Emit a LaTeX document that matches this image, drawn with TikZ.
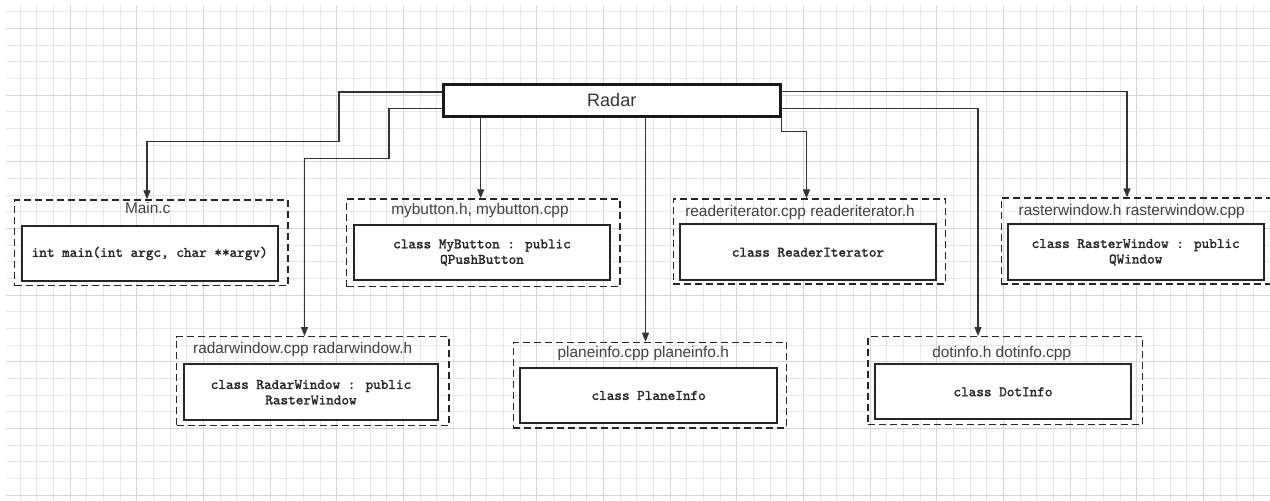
\documentclass[tikz,border=0pt]{standalone}
\usepackage{fontspec}
\setmainfont{Liberation Sans}
\newfontfamily\codefont[FakeBold=1.6]{lmmono10-regular.otf}
\usetikzlibrary{arrows.meta}
\tikzset{
  gridminor/.style={draw=black!9, line width=0.9pt},
  gridmajor/.style={draw=black!16, line width=0.9pt},
  conn/.style={draw=black!80, line width=1.3pt, -{Triangle[length=9pt,width=7pt]}},
  pkgbox/.style={draw=black!85, line width=1.3pt, dash pattern=on 7pt off 4pt, anchor=north west, inner sep=0pt},
  classbox/.style={draw=black!85, line width=2pt, fill=white, anchor=north west, align=center, inner sep=0pt,
    font=\codefont\fontsize{14.5}{15.5}\selectfont, text=black!85},
  pkglabel/.style={font=\fontsize{15.4}{16}\selectfont, text=black!75, inner sep=0pt, anchor=base},
  radarbox/.style={draw=black!90, line width=2.8pt, fill=white, anchor=north west, inner sep=0pt,
    font=\fontsize{18}{20}\selectfont, text=black!80}
}
\begin{document}
\begin{tikzpicture}[x=1pt,y=-1pt]
\useasboundingbox (0,0) rectangle (1270,501);
\clip (0,0) rectangle (1270,501);
\fill[white] (0,0) rectangle (1270,501);
% grid
\foreach \i in {0,...,75}{
  \pgfmathtruncatemacro{\m}{mod(\i,4)}
  \ifnum\m=3 \draw[gridmajor] (20+\i*16.6667,5) -- (20+\i*16.6667,501);
  \else \draw[gridminor] (20+\i*16.6667,5) -- (20+\i*16.6667,501); \fi
}
\foreach \i in {0,...,29}{
  \pgfmathtruncatemacro{\m}{mod(\i,4)}
  \ifnum\m=1 \draw[gridmajor] (6,11.667+\i*16.6667) -- (1270,11.667+\i*16.6667);
  \else \draw[gridminor] (6,11.667+\i*16.6667) -- (1270,11.667+\i*16.6667); \fi
}
% root
\node[radarbox, minimum width=336.7pt, minimum height=32.3pt] (radar) at (442,82.7) {Radar};
% packages
\node[pkgbox, minimum width=273.3pt, minimum height=85.7pt] (mainc) at (14,199.3) {};
\node[pkglabel] (mainclbl) at (147.7,213.3) {Main.c};
\node[classbox, minimum width=256pt, minimum height=55pt] (maincls) at (20.7,225) {int main(int argc, char **argv)};

\node[pkgbox, minimum width=273.3pt, minimum height=87.7pt] (mybtn) at (346,198.3) {};
\node[pkglabel] (mybtnlbl) at (480,214.5) {mybutton.h, mybutton.cpp};
\node[classbox, minimum width=256.6pt, minimum height=55.3pt] (mybtncls) at (352.7,224) {class MyButton : public\\QPushButton};

\node[pkgbox, minimum width=272.3pt, minimum height=85pt] (readit) at (672.7,198.3) {};
\node[pkglabel] (readitlbl) at (800,216) {readeriterator.cpp readeriterator.h};
\node[classbox, minimum width=256pt, minimum height=56pt] (readitcls) at (679,223.3) {class ReaderIterator};

\node[pkgbox, minimum width=280pt, minimum height=86pt] (rasterwin) at (1000.7,197.3) {};
\node[pkglabel] (rasterwinlbl) at (1131.7,215) {rasterwindow.h rasterwindow.cpp};
\node[classbox, minimum width=256pt, minimum height=56pt] (rasterwincls) at (1006.7,223.3) {class RasterWindow : public\\QWindow};

\node[pkgbox, minimum width=272.3pt, minimum height=89pt] (radarwin) at (176,336) {};
\node[pkglabel] (radarwinlbl) at (302.7,353.8) {radarwindow.cpp radarwindow.h};
\node[classbox, minimum width=254.6pt, minimum height=56pt] (radarwincls) at (182.7,363.3) {class RadarWindow : public\\RasterWindow};

\node[pkgbox, minimum width=273.3pt, minimum height=85.6pt] (planeinfo) at (512.7,341.7) {};
\node[pkglabel] (planeinfolbl) at (643.3,357.8) {planeinfo.cpp planeinfo.h};
\node[classbox, minimum width=256.7pt, minimum height=54.4pt] (planeinfocls) at (519.3,367.3) {class PlaneInfo};

\node[pkgbox, minimum width=274.4pt, minimum height=88pt] (dotinfo) at (867.3,336) {};
\node[pkglabel] (dotinfolbl) at (1001.7,357.8) {dotinfo.h dotinfo.cpp};
\node[classbox, minimum width=256pt, minimum height=55pt] (dotinfocls) at (874,363.3) {class DotInfo};

% connectors
\draw[conn] (radar.west |- 0,92) -| (339,141.7) -| (mainc.north -| 147,0);
\draw[conn] (radar.west |- 0,108.3) -| (389,158.3) -| (radarwin.north -| 304.5,0);
\draw[conn] (radar.south -| 480.7,0) -- (mybtn.north -| 480.7,0);
\draw[conn] (radar.south -| 645.5,0) -- (planeinfo.north -| 645.5,0);
\draw[conn] (radar.south east) |- (806.5,131.7) -- (readit.north -| 806.5,0);
\draw[conn] (radar.east |- 0,91.7) -| (rasterwin.north -| 1127,0);
\draw[conn] (radar.east |- 0,108.3) -| (dotinfo.north -| 978,0);
\end{tikzpicture}
\end{document}
